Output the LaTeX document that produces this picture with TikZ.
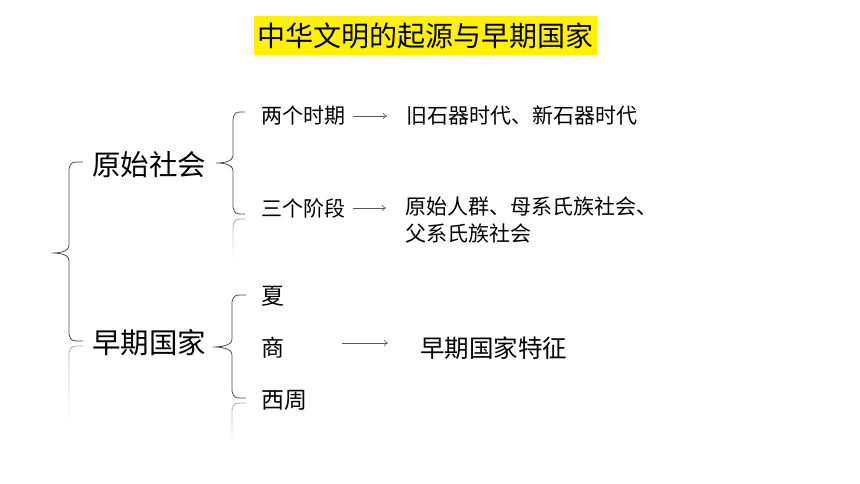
\documentclass[tikz,border=0pt]{standalone}
\usepackage{fontspec}
\setmainfont{Noto Sans CJK SC}
\usetikzlibrary{fadings,arrows.meta}
\tikzset{item/.style={anchor=west, inner sep=0pt, font=\fontsize{21}{27}\selectfont},
  head/.style={item, font=\fontsize{28.5}{32}\selectfont},
  curly/.style={draw=black!70, line width=0.8pt},
  mirror/.style={draw=black!35, line width=0.8pt, path fading=south},
  pointer/.style={-{To[length=4pt, width=6pt]}, draw=black!65, line width=0.6pt}}
% hook x, line x, tip x, top y, middle y, bottom y
\newcommand{\curlybrace}[6]{\draw [curly] (#1,#4) .. controls (#2+2,#4) .. (#2,#4+7) -- (#2,#5-8) .. controls (#2,#5-1) and (#3+7,#5) .. (#3,#5) .. controls (#3+7,#5) and (#2,#5+1) .. (#2,#5+8) -- (#2,#6-7) .. controls (#2+2,#6) .. (#1,#6);}

\begin{document}
\begin{tikzpicture}[x=1pt, y=-1pt]
  \useasboundingbox (0,0) rectangle (860,484);
  \node [fill=yellow, minimum width=343pt, minimum height=39pt, inner sep=0pt, font=\fontsize{28}{32}\selectfont] (title) at (425.5,35.5) {中华文明的起源与早期国家};
  % left column
  \node [head] (society) at (92,165) {原始社会};
  \node [head] (state) at (92,343) {早期国家};
  % primitive society
  \node [item] (two) at (261,116) {两个时期};
  \node [item] (ages) at (406,116) {旧石器时代、新石器时代};
  \node [item] (three) at (261,208) {三个阶段};
  \node [item, align=left, anchor=north west] (stages) at (405,197) {原始人群、母系氏族社会、\\父系氏族社会};
  % early states
  \node [item, font=\fontsize{23}{26}\selectfont] (xia) at (261,296) {夏};
  \node [item, font=\fontsize{23}{26}\selectfont] (shang) at (261,348) {商};
  \node [item, font=\fontsize{23}{26}\selectfont] (zhou) at (261,400) {西周};
  \node [item, font=\fontsize{24.5}{28}\selectfont] (traits) at (420,348) {早期国家特征};
  % braces
  \curlybrace{83}{69}{52}{162}{253}{341}
  \curlybrace{245}{233}{216}{112}{163}{214}
  \curlybrace{246}{232}{213}{295}{347}{398}
  % faint mirror images
  \draw [mirror] (83,346) .. controls (71,346) .. (69,353) -- (69,425);
  \draw [mirror] (245,219) .. controls (235,219) .. (233,226) -- (233,262);
  \draw [mirror] (246,403) .. controls (234,403) .. (232,410) -- (232,442);
  % arrows
  \draw [pointer, shorten <=8pt, shorten >=19pt] (two.east) -- (ages.west);
  \draw [pointer, shorten <=8pt, shorten >=19pt] (three.east) -- (three.east -| stages.west);
  \draw [pointer] ([xshift=58pt, yshift=5pt]shang.east) -- ([xshift=-32pt, yshift=5pt]traits.west);
\end{tikzpicture}
\end{document}
